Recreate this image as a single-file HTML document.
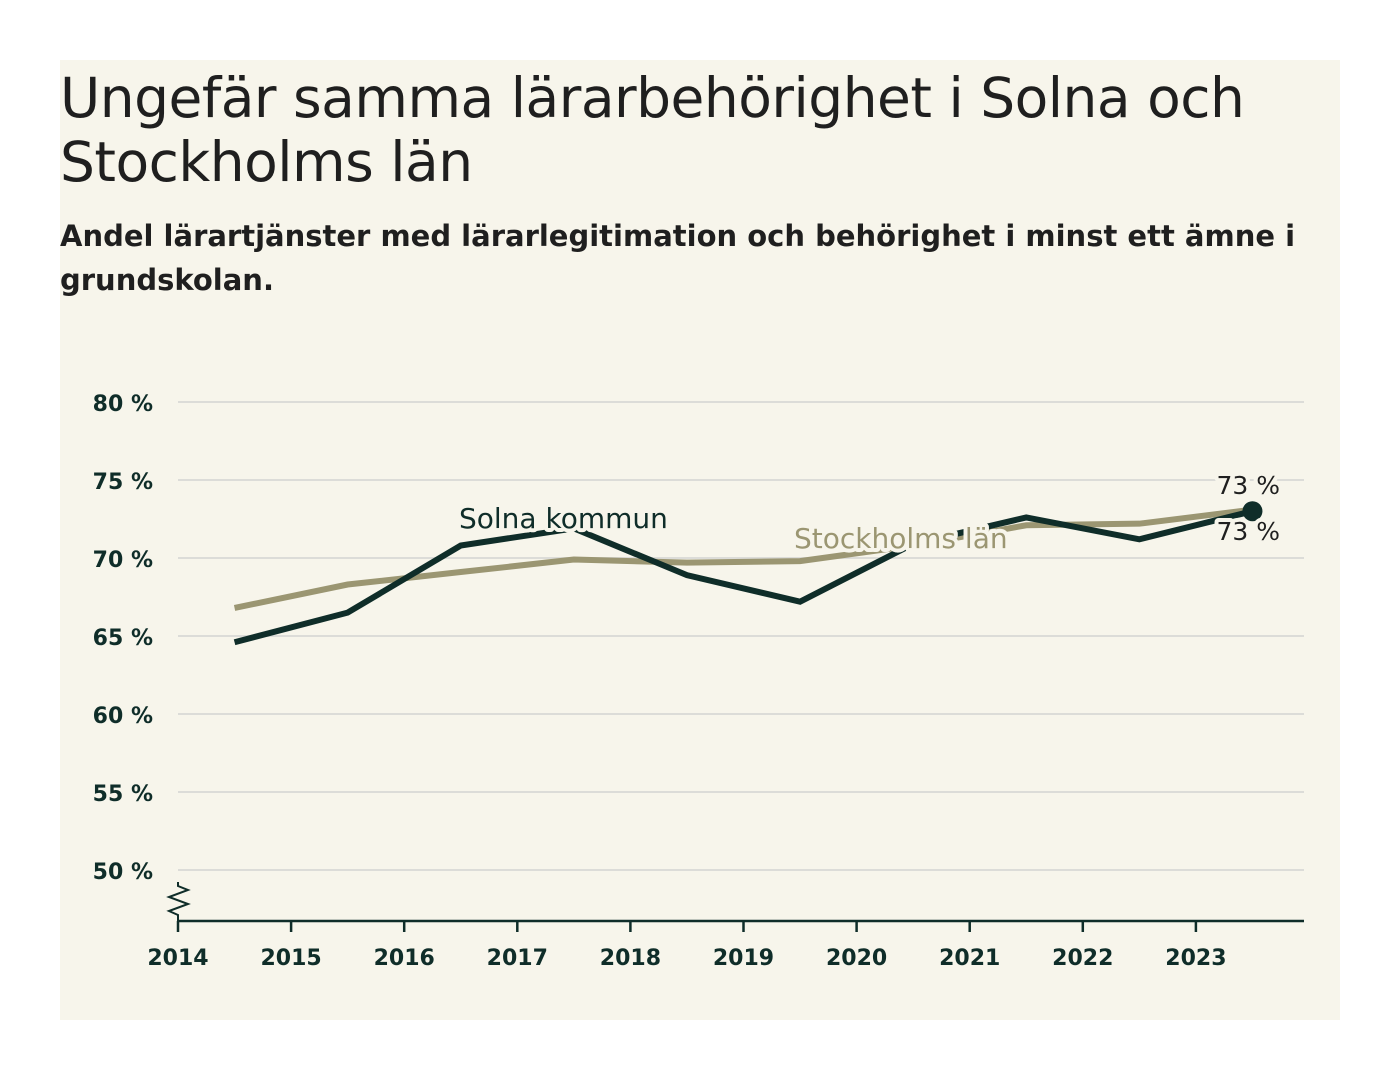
<!DOCTYPE html>
<html><head><meta charset="utf-8"><style>
body{margin:0;width:1400px;height:1080px;background:#fff;font-family:"DejaVu Sans","Liberation Sans",sans-serif;}
#card{position:absolute;left:60px;top:60px;width:1280px;height:960px;background:#f7f5eb;}
h1{position:absolute;left:0;top:6px;margin:0;font-size:55px;line-height:64px;font-weight:normal;color:#1f1f1f;letter-spacing:-0.5px;white-space:nowrap}
h2{position:absolute;left:0;top:154px;margin:0;font-size:29px;line-height:44px;font-weight:bold;color:#1f1f1f;white-space:nowrap}
svg{position:absolute;left:0;top:0}
</style></head><body>
<div id="card">
<h1>Ungefär samma lärarbehörighet i Solna och<br>Stockholms län</h1>
<h2>Andel lärartjänster med lärarlegitimation och behörighet i minst ett ämne i<br>grundskolan.</h2>
</div>
<svg id="chart" width="1400" height="1080" font-family="DejaVu Sans, Liberation Sans, sans-serif"></svg>
<script>
const years=[2014.5,2015.5,2016.5,2017.5,2018.5,2019.5,2020.5,2021.5,2022.5,2023.5];
const solna=[64.6,66.5,70.8,71.9,68.9,67.2,70.9,72.6,71.2,73.0];
const sthlm=[66.8,68.3,69.1,69.9,69.7,69.8,70.8,72.1,72.2,73.1];
const yTicks=[50,55,60,65,70,75,80];
const xTicks=[2014,2015,2016,2017,2018,2019,2020,2021,2022,2023];
const NS='http://www.w3.org/2000/svg';
const svg=document.getElementById('chart');
const xs=v=>178+(v-2014)*113.1;
const ys=v=>402+(80-v)*15.6;
function el(t,a,p){const e=document.createElementNS(NS,t);for(const k in a)e.setAttribute(k,a[k]);(p||svg).appendChild(e);return e;}
yTicks.forEach(v=>{
 const g=el('line',{x1:178,x2:1304,y1:ys(v),y2:ys(v),stroke:'#dcdcd8','stroke-width':2});
 
 
 const t=el('text',{x:153,y:ys(v)+9,'text-anchor':'end','font-size':22,'font-weight':'bold',fill:'#0f2d29'});
 t.textContent=v+' %';
 
 
});
const ax=el('line',{x1:178,x2:1304,y1:921,y2:921,stroke:'#0f2d29','stroke-width':2.5});


const br=el('path',{d:'M178,882 L178,886 L188,890 L169,897 L188,904 L169,911 L178,915 L178,921',fill:'none',stroke:'#0f2d29','stroke-width':2});


xTicks.forEach(v=>{
 const l=el('line',{x1:xs(v),x2:xs(v),y1:921,y2:932,stroke:'#0f2d29','stroke-width':2.5});
 
 
 const t=el('text',{x:xs(v),y:965,'text-anchor':'middle','font-size':22,'font-weight':'bold',fill:'#0f2d29'});
 t.textContent=v;
 
 
});
function line(d,c,name){
 const p=el('polyline',{points:d.map((v,i)=>xs(years[i])+','+ys(v)).join(' '),fill:'none',stroke:c,'stroke-width':6,'stroke-linejoin':'miter'});
 
 
}
line(sthlm,'#9b9672','stockholm-line');
line(solna,'#0f2d29','solna-line');
function label(txt,x,y,c,name,size,anchor){
 const t=el('text',{x:x,y:y,'font-size':size,fill:c,stroke:'#f7f5eb','stroke-width':8,'paint-order':'stroke','text-anchor':anchor||'start','stroke-linejoin':'round'});
 t.textContent=txt;
 
 
}
label('Solna kommun',459,528,'#0f2d29','solna-label',28);
label('Stockholms län',794,548,'#9b9672','stockholm-label',28);
const dot=el('circle',{cx:xs(years[9]),cy:ys(solna[9]),r:10,fill:'#0f2d29'});


label(Math.round(solna[9])+' %',1280,494,'#1f1f1f','solna-end-value',25,'end');
label(Math.round(sthlm[9])+' %',1280,540,'#1f1f1f','stockholm-end-value',25,'end');
</script>
</body></html>
